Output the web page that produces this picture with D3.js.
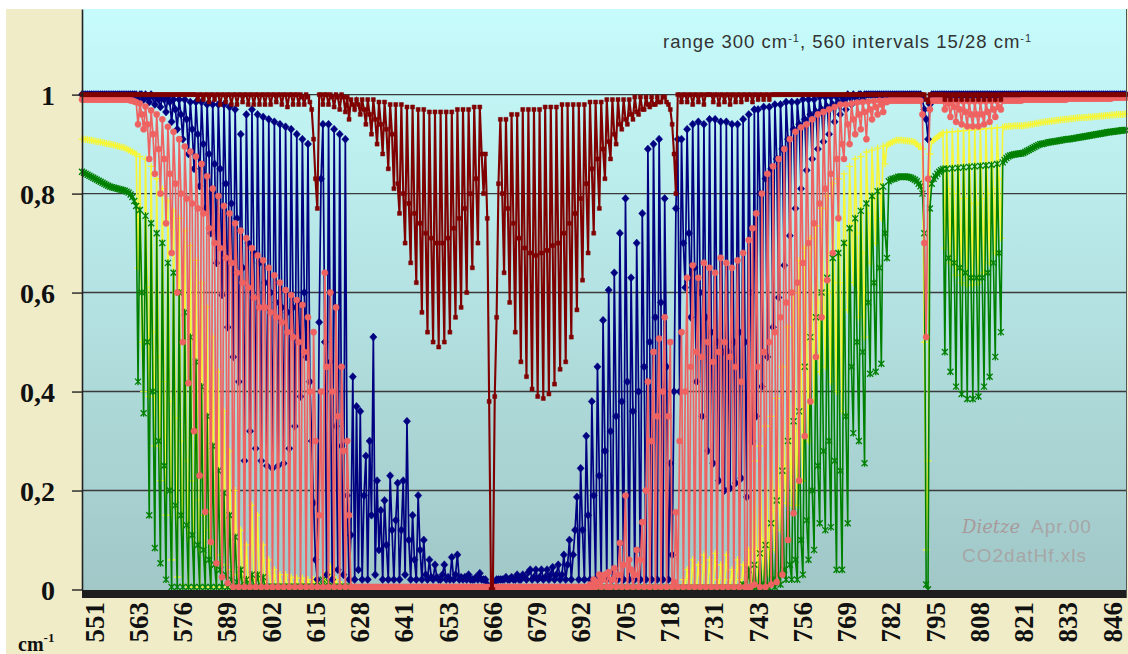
<!DOCTYPE html>
<html>
<head>
<meta charset="utf-8">
<style>
  body { margin: 0; background: #fff; }
  .axis text { font-family: "Liberation Serif", "Times New Roman", serif; font-weight: bold; fill: #111; }
  .note { font-family: "Liberation Sans", Arial, sans-serif; }
</style>
</head>
<body>
<svg width="1128" height="654"></svg>
<script src="https://cdn.jsdelivr.net/npm/d3@7"></script>
<script>
// category axis: 560 intervals from 551 cm-1, a label every 24 intervals
var xTickLabels = ["551","563","576","589","602","615","628","641","653","666","679","692",
                   "705","718","731","743","756","769","782","795","808","821","833","846"];
var yTickValues = [0, 20, 40, 60, 80, 100];
var yTickLabels = ["0", "0,2", "0,4", "0,6", "0,8", "1"];

// transmission in percent, one row per label interval (24 points)
var maroonRows = [
  [100,100,100,100,100,100,100,100,100,100,100,100,100,100,100,100,100,100,100,100,100,100,100,100],
  [100,100,100,100,100,100,100,100,100,100,100,100,100,100,100,100,100,100,100,100,100,100,100,100],
  [100,100,100,100,100,100,100,100,100,100,100,100,100,100,99,100,100,99,100,100,98.5,100,100,99],
  [100,100,98,100,100,98.5,100,100,98,100,100,98,100,100,98.5,100,100,98,100,100,98,100,100,98],
  [100,100,98,100,100,98,100,100,98.5,100,100,98,100,100,97.5,100,100,98,100,100,98,100,99.5,98],
  [100,99.5,98.5,97,91,83,77,100,100,98,100,100,98,100,99.5,97.5,100,99.5,97,100,99.5,96.5,99.5,95],
  [99,98,97,99,98,96,99,97,94,99,96,92,99,95,90,98.5,94,88,98.5,93,85,98,92,81],
  [98,82,76,98,80,70,97.5,78,66,97.5,76,62,97,74,56,97,72,52,96.5,71,50,96.5,70,49],
  [96.5,70,50,96.5,71,52,96.5,73,55,97,75,57,97,77,60,97,80,65,97.5,83,70,97.5,88,80],
  [88,75,38,0,0,39,55,82,95,80,64,95,77,58,96,74,52,96,71,46,97,69,43,97],
  [68,40.5,97,67.5,39,97,68,38.6,97.5,68.5,39.5,97.5,69.5,41.5,97.5,70,44.5,98,72,46,98,74,51,98],
  [76,56.5,98,79,62.5,98,82,68,98.5,85,72,98.5,87,77,98.5,89,83,99,90.5,87,99,92,90,99],
  [94,93,99,95,94,99,96,95,99.5,96.5,96,99.5,97,97,99.5,98,97.5,99.5,98,98,99.5,98.5,98.5,99.5],
  [99.5,98.5,98,97,94,88,80,100,100,98.5,100,100,98.5,100,100,98,100,100,98.5,100,100,98,100,100],
  [100,100,98.5,100,100,98,100,100,98.5,100,100,98,100,100,98.5,100,100,98.5,100,100,99,100,100,98.5],
  [100,100,99,100,100,99,100,100,99,100,100,100,100,100,100,100,100,100,100,100,100,100,100,100],
  [100,100,100,100,100,100,100,100,100,100,100,100,100,100,100,100,100,100,100,100,100,100,100,100],
  [100,100,100,100,100,100,100,100,100,100,100,100,100,100,100,100,100,100,100,100,100,100,100,100],
  [100,100,100,100,100,100,100,100,100,100,100,100,100,100,100,100,100,100,100,100,99,98.5,100,100],
  [100,100,100,100,100,100,99,100,100,99,100,100,99,100,100,99,100,100,99,100,100,99,100,100],
  [99,100,100,99,100,100,99,100,100,99,100,100,99,100,100,100,100,100,100,100,100,100,100,100],
  [100,100,100,100,100,100,100,100,100,100,100,100,100,100,100,100,100,100,100,100,100,100,100,100],
  [100,100,100,100,100,100,100,100,100,100,100,100,100,100,100,100,100,100,100,100,100,100,100,100],
  [100,100,100,100,100,100,100,100]
];

var navyRows = [
  [100,100,100,100,100,100,100,100,100,100,100,100,100,100,100,100,100,100,100,100,100,100,100,100],
  [100,100,100,100,100,100,99,100,100,99,100,99.5,98.5,100,99.5,98,99.5,99,97.5,99.5,99,96.5,99.5,98.5],
  [94.5,99,97,93,99,96,91,99,95,88,98.5,93,85,98.5,92,81.5,98.5,90,77,98,88,72,98,86],
  [66,98,85,59.5,98,82,53,97.5,78,47,97,75,42,92,65,26,96,70,32,97,68,28.5,96,66],
  [26,95.5,62,25,95,60,24.5,94.5,58,25,94,57,25.5,93.5,56,28.5,93,57,33,92,58,39,91,60],
  [47,90,42,30,17.5,6,2,54,83,94,50,3,94,46,2,93,33,4,92,29,3,91,19,2],
  [11,43,2,37,4,36,2,19,27,2,30,15,51,3,22,8,16,2,18,9,2,23,12,2],
  [14,21.5,2,12,22,3,34,10,2,15,6,2,19,8,2,10,3,2,6,2.5,2,5,2.5,2],
  [2,3,5,2,2.5,2,6.5,2,3,7,2,2.5,2,2.5,2,3,2,2,2,2.5,2,3.3,2,2],
  [2,1,0,0,0.5,1,2,2,2,2,2,2.5,2,2,2.5,2,2,3,2,2,3,2.5,2,3.5],
  [4,2,2.5,4,2,2.5,4,2,2.5,4,2,3,4.5,2,3,5,2,3,7,2,5,10,2,7],
  [12,18.7,2,24.5,12,2,31,15,2,38,19,2,45,23,2,54.4,28,2,60.5,32,2,64,35,2],
  [72,38,2,79,42,2,63,36,2,70,40,2,76,45,2,89,50,2,90,55,2,91,58,2],
  [79,45,2,25.5,7,40,77,91,40,91,70,61,93,72,55,94,65,42,94.5,60,35,94,55,28],
  [95,52,25.5,95,50,22,94.5,48,20,94.5,48,20.5,94,50,21.5,94,52,22.5,95,50,18.7,96,60,30],
  [97,35,97,80,41,97.5,83,47,97.5,85,53,98,87,59,98,89,65.5,98.5,91,71.5,98.5,93,77,98.5],
  [94,81,99,95,84.7,99,96,87,99,96.5,89,99.5,97,90.5,99.5,97.5,92,99.5,98,94.5,99.5,98.5,96,99.5],
  [99,97,100,99.5,98,100,99.5,98.5,100,100,99,100,100,100,100,100,100,100,100,100,100,100,100,100],
  [100,100,100,100,100,100,100,100,100,100,100,100,100,100,100,100,100,100,99,97,95,91,98,100],
  [100,100,100,100,100,100,100,100,100,100,100,100,100,100,100,100,100,100,100,100,100,100,100,100],
  [100,100,100,100,100,100,100,100,100,100,100,100,100,100,100,100,100,100,100,100,100,100,100,100],
  [100,100,100,100,100,100,100,100,100,100,100,100,100,100,100,100,100,100,100,100,100,100,100,100],
  [100,100,100,100,100,100,100,100,100,100,100,100,100,100,100,100,100,100,100,100,100,100,100,100],
  [100,100,100,100,100,100,100,100]
];

var salmonRows = [
  [99,99,99,99,99,99,99,99,99,99,99,99,99,99,99,99,99,99,99,99,99,99,99,99],
  [99,99,98.8,98.8,98.6,98.5,94,98.2,96,93,97.6,94,87,96.8,92,84,96,89,80,95,87,74,93.5,84],
  [68,92.5,82,60,91,80,50,89.5,79,41.7,88.5,78,32,87.5,77,23,86,76,15.7,83.5,73,9.6,81,70],
  [5.3,79.5,69,2.5,77.5,67,1.3,76,66,0.5,74,64,0.5,72.5,62,0.5,71,61,0.5,69,59,0.5,67.5,57],
  [0.5,66.5,57,0.5,65,56,0.5,63.5,55,0.5,62,54,0.5,60.5,52,0.5,59.5,51,0.5,58.5,50,0.5,57.5,48],
  [0.5,55,40,0.5,52,30,0.5,15,40,0.5,64,45,0.5,60,40,0.5,57,35,0.5,45,28,0.5,30,15],
  [0.5,0.5,0.5,0.5,0.5,0.5,0.5,0.5,0.5,0.5,0.5,0.5,0.5,0.5,0.5,0.5,0.5,0.5,0.5,0.5,0.5,0.5,0.5,0.5],
  [0.5,0.5,0.5,0.5,0.5,0.5,0.5,0.5,0.5,0.5,0.5,0.5,0.5,0.5,0.5,0.5,0.5,0.5,0.5,0.5,0.5,0.5,0.5,0.5],
  [0.5,0.5,0.5,0.5,0.5,0.5,0.5,0.5,0.5,0.5,0.5,0.5,0.5,0.5,0.5,0.5,0.5,0.5,0.5,0.5,0.5,0.5,0.5,0.5],
  [0.5,0.5,0.5,0.5,0.5,0.5,0.5,0.5,0.5,0.5,0.5,0.5,0.5,0.5,0.5,0.5,0.5,0.5,0.5,0.5,0.5,0.5,0.5,0.5],
  [0.5,0.5,0.5,0.5,0.5,0.5,0.5,0.5,0.5,0.5,0.5,0.5,0.5,0.5,0.5,0.5,0.5,0.5,0.5,0.5,0.5,0.5,0.5,0.5],
  [0.5,0.5,0.5,0.5,0.5,0.5,0.5,0.5,1,0.5,2,0.5,1.5,3,0.5,2,3,0.5,3.5,0.5,2,4.3,0.5,3],
  [9.4,0.5,5,19,0.5,6,4,0.5,3,8,0.5,6,13.6,0.5,20,42,0.5,30,48,0.5,35,50.7,0.5,40],
  [55,0.5,35,50,0.5,1.5,15.6,0.5,30,52,0.5,40,63,0.5,45,65.5,0.5,48,63,0.5,47,66,0.5,50],
  [65,0.5,46,64,0.5,48,67,0.5,50,66,0.5,47,65,0.5,45,66.5,0.5,42,68,0.5,0.5,70.6,0.5,73],
  [1,76,45,0.5,80,48,0.5,84,50,1,85.5,52,1.5,87,55,3,89,58,10,91,60,15.4,92.5,62],
  [22,93.4,66,31,94,70,38,95,74,47,96,78,55,96.5,81,62.5,97,84,68,97.5,87,75,98,90],
  [87,98,94,90,98.2,95,92,98.4,96,93,98.5,96.5,91,98.6,97,95,98.7,97.5,96,98.8,98,96.5,98.8,98.5],
  [98.8,98.8,98.8,98.8,98.8,98.8,98.8,98.8,98.8,98.8,98.8,98.8,98.8,98.8,98.8,98.8,98.8,98.8,96,70,51,83,97,98.8],
  [98.8,98.8,98.8,98.8,98.8,98.8,97,98.7,98.2,95.5,98.7,97.5,94.5,98.6,97,94,98.6,96.5,93.6,98.6,96,93.6,98.6,96],
  [93.6,98.6,96,94,98.6,96.5,94.5,98.7,97,95.5,98.7,97.5,97,98.8,98.8,98.8,98.8,98.8,98.8,98.8,98.8,98.8,98.8,98.8],
  [99,99,99,99,99,99,99,99,99,99,99,99,99,99,99,99,99,99,99,99,99,99,99,99],
  [99.2,99.2,99.2,99.2,99.2,99.2,99.2,99.2,99.2,99.2,99.2,99.2,99.2,99.2,99.2,99.2,99.2,99.2,99.2,99.2,99.2,99.2,99.2,99.2],
  [99.4,99.4,99.4,99.4,99.4,99.4,99.4,99.4]
];

var yellowRows = [
  [91,91,91,90.9,90.8,90.8,90.7,90.6,90.5,90.5,90.4,90.3,90.2,90.1,90,90,89.9,89.8,89.7,89.6,89.5,89.4,89.3,89.2],
  [89,88.8,88.6,88.4,88.2,88,65,87.5,50,40,87,61,39,85.5,52,29,83,47,22,81,42,15,78.5,38],
  [6,76.5,34.6,2.5,75,30,1,72.5,26,0.5,69.5,22,0.5,66.5,18,0.5,62,15,0.5,57,12,0.5,51,9],
  [0.5,44,7,0.5,36,5,0.5,28,4,0.5,20,3,0.5,12,2,0.5,9,1,0.5,17,2,0.5,15,1],
  [0.5,9,1,0.5,6,1,0.5,4,0.5,0.5,3,0.5,0.5,3,0.5,0.5,2.5,0.5,0.5,2.3,0.5,0.5,2.3,0.5],
  [0.5,2,0.5,0.5,2,0.5,0.5,1,0.5,0.5,3,0.5,0.5,4.6,0.5,0.5,2,0.5,0.5,1,0.5,0.5,0.5,0.5],
  [0.3,0.3,0.3,0.3,0.3,0.3,0.3,0.3,0.3,0.3,0.3,0.3,0.3,0.3,0.3,0.3,0.3,0.3,0.3,0.3,0.3,0.3,0.3,0.3],
  [0.3,0.3,0.3,0.3,0.3,0.3,0.3,0.3,0.3,0.3,0.3,0.3,0.3,0.3,0.3,0.3,0.3,0.3,0.3,0.3,0.3,0.3,0.3,0.3],
  [0.3,0.3,0.3,0.3,0.3,0.3,0.3,0.3,0.3,0.3,0.3,0.3,0.3,0.3,0.3,0.3,0.3,0.3,0.3,0.3,0.3,0.3,0.3,0.3],
  [0.3,0.3,0.3,0.3,0.3,0.3,0.3,0.3,0.3,0.3,0.3,0.3,0.3,0.3,0.3,0.3,0.3,0.3,0.3,0.3,0.3,0.3,0.3,0.3],
  [0.3,0.3,0.3,0.3,0.3,0.3,0.3,0.3,0.3,0.3,0.3,0.3,0.3,0.3,0.3,0.3,0.3,0.3,0.3,0.3,0.3,0.3,0.3,0.3],
  [0.3,0.3,0.3,0.3,0.3,0.3,0.3,0.3,0.3,0.3,0.3,0.3,0.3,0.3,0.3,0.3,0.3,0.3,0.3,0.3,0.3,0.3,0.3,0.3],
  [0.3,0.3,0.3,0.3,0.3,0.3,0.3,0.3,0.3,0.3,0.3,0.3,0.3,0.3,0.3,0.3,0.3,0.3,0.3,0.3,0.3,0.3,0.3,0.3],
  [0.3,0.3,0.3,0.3,0.3,0.3,0.3,0.3,0.3,0.3,2,0.3,4,0.5,0.3,6,1,0.3,5,1,0.3,7,1,0.3],
  [6,1,0.3,7.3,2,0.3,5,1,0.3,7,2,0.3,4,1,0.3,6,2,0.3,5,1,0.3,8,2,0.3],
  [26,8,0.5,29,10,1,33,12,3,35,16,8,38.6,20,12,45,25,17.4,53,30,17,60,32,17],
  [66.5,45,22,69,50,30,71,55,38,73.5,58,44,77,60,45,79.5,60,42,82,62,40,83,62,36],
  [84,70,56.5,85.5,74,62,87,72,55,87.5,68,51,88.4,76,66,88.8,79,70,89.2,82,75,89.6,86,89.8],
  [90,90.2,90.4,90.6,90.8,90.8,90.8,90.8,90.7,90.7,90.7,90.6,90.6,90.5,90.3,90,89.5,89.5,89,50,8,26,88,90.5],
  [90.8,91.1,91.4,91.7,92,92.3,69,92.4,81,66,92.5,80,63.5,92.6,79,62,92.7,79,61.5,92.8,78,61.5,92.9,78],
  [62,93,79,64,93.1,80,66,93.2,81,68,93.3,83,71,93.4,93.5,93.5,93.6,93.6,93.6,93.7,93.7,93.7,93.7,93.7],
  [93.7,93.8,93.8,93.9,94,94,94.1,94.2,94.2,94.3,94.4,94.4,94.5,94.5,94.6,94.6,94.7,94.7,94.8,94.8,94.9,94.9,95,95],
  [95,95.1,95.1,95.2,95.2,95.3,95.3,95.3,95.4,95.4,95.4,95.5,95.5,95.5,95.6,95.6,95.6,95.7,95.7,95.7,95.8,95.8,95.8,95.9],
  [95.9,95.9,96,96,96,96,96.1,96.1]
];

var greenRows = [
  [84.4,84.2,84,83.8,83.6,83.4,83.2,83,82.8,82.6,82.4,82.2,82,81.8,81.6,81.4,81.3,81.2,81.1,81,80.9,80.8,80.7,80.6],
  [80.4,80.2,79.8,79.3,78.5,77.5,42,76.7,60,35.6,75.5,50,15,74,40,8.4,72,30,5.3,70,25,2,66,20],
  [0.5,64,17,0.5,60,15,0.5,56,13,0.5,51,11,0.5,46,9,0.5,41,8,0.5,35,6,0.5,29,5],
  [0.5,24,4,0.5,19.5,3,0.5,15,2,0.5,10.6,1.5,0.5,4,0.5,0.5,2,0.5,0.5,3,0.5,0.5,3,0.5],
  [0.5,2.5,0.5,0.5,0.5,0.5,0.5,0.5,0.5,0.5,0.5,0.5,0.5,0.5,0.5,0.5,0.5,0.5,0.5,0.5,0.5,0.5,0.5,0.5],
  [0.5,0.5,0.5,0.5,0.5,0.5,1.5,0.5,0.5,2,0.5,0.5,1.5,0.5,0.5,0.5,0.5,0.5,0.5,0.5,0.5,0.5,0.5,0.5],
  [0.3,0.3,0.3,0.3,0.3,0.3,0.3,0.3,0.3,0.3,0.3,0.3,0.3,0.3,0.3,0.3,0.3,0.3,0.3,0.3,0.3,0.3,0.3,0.3],
  [0.3,0.3,0.3,0.3,0.3,0.3,0.3,0.3,0.3,0.3,0.3,0.3,0.3,0.3,0.3,0.3,0.3,0.3,0.3,0.3,0.3,0.3,0.3,0.3],
  [0.3,0.3,0.3,0.3,0.3,0.3,0.3,0.3,0.3,0.3,0.3,0.3,0.3,0.3,0.3,0.3,0.3,0.3,0.3,0.3,0.3,0.3,0.3,0.3],
  [0.3,0.3,0.3,0.3,0.3,0.3,0.3,0.3,0.3,0.3,0.3,0.3,0.3,0.3,0.3,0.3,0.3,0.3,0.3,0.3,0.3,0.3,0.3,0.3],
  [0.3,0.3,0.3,0.3,0.3,0.3,0.3,0.3,0.3,0.3,0.3,0.3,0.3,0.3,0.3,0.3,0.3,0.3,0.3,0.3,0.3,0.3,0.3,0.3],
  [0.3,0.3,0.3,0.3,0.3,0.3,0.3,0.3,0.3,0.3,0.3,0.3,0.3,0.3,0.3,0.3,0.3,0.3,0.3,0.3,0.3,0.3,0.3,0.3],
  [0.3,0.3,0.3,0.3,0.3,0.3,0.3,0.3,0.3,0.3,0.3,0.3,0.3,0.3,0.3,0.3,0.3,0.3,0.3,0.3,0.3,0.3,0.3,0.3],
  [0.3,0.3,0.3,0.3,0.3,0.3,0.3,0.3,0.3,0.3,0.3,0.3,0.3,0.3,0.3,0.3,0.3,0.3,0.3,0.3,0.3,0.3,0.3,0.3],
  [0.3,0.3,0.3,0.3,0.3,0.3,0.3,0.3,0.3,0.3,0.3,0.3,0.3,0.3,0.3,0.3,0.3,0.3,1,0.3,0.3,4,0.5,0.3],
  [5,0.5,0.3,7.3,1,0.3,9,1,0.3,13.4,2,0.5,18,3,1,24,4,2,30,5,2,34,6,2],
  [36,10,3,45,14,6,51,20,8,55,25,13.4,60,28,12,63,30,12.6,67,26,4,68,24,4],
  [70,35,13.4,73,45,31.6,75,50,30,76.5,48,25.5,78,58,43.6,79.5,62,44,80.5,65,45.6,81.4,72,67],
  [82.5,82.8,83,83,83.2,83.4,83.4,83.4,83.4,83.4,83.4,83.3,83.2,83,82.8,82.5,82,81.5,80,72,1,0,77,82],
  [83,83.5,84,84.4,84.7,85,48,85,67,44,85.1,66,41,85.2,65,39.5,85.3,64,38.5,85.4,63,38.5,85.5,63],
  [39,85.6,63,41,85.7,64,43,85.8,66,47,86,68,52,86.3,86.8,87.2,87.5,87.7,87.8,87.9,88,88,88.1,88.1],
  [88.2,88.4,88.6,88.8,89,89.2,89.4,89.6,89.8,90,90,90.1,90.2,90.3,90.4,90.4,90.5,90.6,90.6,90.7,90.8,90.8,90.9,91],
  [91,91,91.1,91.2,91.2,91.3,91.4,91.4,91.5,91.6,91.6,91.7,91.8,91.8,91.9,92,92,92.1,92.2,92.2,92.3,92.4,92.4,92.5],
  [92.5,92.6,92.6,92.7,92.7,92.8,92.8,92.8]
];

var W = 1128, H = 654;
var svg = d3.select("svg");
var plotLeft = 82, plotRight = 1126, plotTop = 9, zeroY = 589.5;

var x = d3.scaleLinear().domain([0, 559]).range([plotLeft, plotRight]);
var y = d3.scaleLinear().domain([0, 117.3]).range([zeroY, plotTop]);
// the category labels sit on their own evenly spaced positions under the plot
var xLabel = d3.scalePoint().domain(xTickLabels).range([95, 1113]);

// frame and plot background
svg.append("rect").attr("width", W).attr("height", H).attr("fill", "#fff");
svg.append("rect").attr("x", 6).attr("y", 9).attr("width", W - 6).attr("height", H - 9).attr("fill", "#f0ecc8");

var grad = svg.append("defs").append("linearGradient")
    .attr("id", "bg").attr("x1", 0).attr("y1", 0).attr("x2", 0).attr("y2", 1);
grad.append("stop").attr("offset", "0%").attr("stop-color", "#c7fcfc");
grad.append("stop").attr("offset", "100%").attr("stop-color", "#a1c7c7");

svg.append("rect").attr("x", plotLeft).attr("y", plotTop)
    .attr("width", plotRight - plotLeft).attr("height", zeroY - plotTop + 1).attr("fill", "url(#bg)");

svg.append("g").selectAll("line")
    .data([20, 40, 60, 80, 100])
  .enter().append("line")
    .attr("x1", plotLeft).attr("x2", plotRight)
    .attr("y1", function(d) { return y(d); }).attr("y2", function(d) { return y(d); })
    .attr("stroke", "#3a3a3a").attr("stroke-width", 1.4);

// series, drawn bottom to top
var series = [
  {name: "yellow", rows: yellowRows, color: "#f6f634", marker: "plus",    width: 1.6},
  {name: "green",  rows: greenRows,  color: "#008000", marker: "star",    width: 1.6},
  {name: "navy",   rows: navyRows,   color: "#000080", marker: "diamond", width: 1.7},
  {name: "salmon", rows: salmonRows, color: "#ef6262", marker: "circle",  width: 1.7},
  {name: "maroon", rows: maroonRows, color: "#800000", marker: "square",  width: 2.1}
];

var markerPath = {
  diamond: "M0,-4L3.6,0L0,4L-3.6,0Z",
  square: "M-2,-2H2V2H-2Z",
  circle: d3.symbol().type(d3.symbolCircle).size(30)(),
  plus: "M-3.5,0H3.5M0,-3.5V3.5",
  star: "M-3,-3L3,3M-3,3L3,-3M0,-3.5V3.5"
};
var filled = {diamond: true, square: true, circle: true, plus: false, star: false};

var line = d3.line()
    .x(function(d, i) { return x(i); })
    .y(function(d) { return y(d); });

var problems = [];
series.forEach(function(s) {
  s.rows.forEach(function(r, k) {
    var want = k < 23 ? 24 : 8;
    if (r.length !== want) problems.push(s.name + " row " + k + " has " + r.length);
  });
  var values = s.rows.flat();
  var g = svg.append("g").attr("class", "series " + s.name);
  g.append("path")
      .datum(values)
      .attr("d", line)
      .attr("fill", "none")
      .attr("stroke", s.color)
      .attr("stroke-width", s.width)
      .attr("stroke-linejoin", "miter");
  g.selectAll(".m")
      .data(values)
    .enter().append("path")
      .attr("class", "m")
      .attr("transform", function(d, i) { return "translate(" + x(i) + "," + y(d) + ")"; })
      .attr("d", markerPath[s.marker])
      .attr("fill", filled[s.marker] ? s.color : "none")
      .attr("stroke", s.color)
      .attr("stroke-width", filled[s.marker] ? 0.5 : 1.3);
});

// bottom band, right border
svg.append("rect").attr("x", plotLeft).attr("y", 590).attr("width", plotRight - plotLeft).attr("height", 8).attr("fill", "#1e1e1e");
svg.append("line").attr("x1", plotRight + 0.5).attr("x2", plotRight + 0.5).attr("y1", plotTop).attr("y2", 598)
    .attr("stroke", "#555").attr("stroke-width", 1);

// axes
var yAxis = d3.axisLeft(y)
    .tickValues(yTickValues)
    .tickFormat(function(d, i) { return yTickLabels[i]; })
    .tickSize(10).tickSizeOuter(0).tickPadding(17);
var gy = svg.append("g").attr("class", "axis").attr("transform", "translate(" + plotLeft + ",0)").call(yAxis);
gy.select(".domain").attr("stroke", "#222").attr("stroke-width", 1.6);
gy.selectAll(".tick line").attr("stroke", "#222").attr("stroke-width", 1.4);
gy.selectAll("text").attr("font-size", 28).attr("dy", "0.34em");

var xAxis = d3.axisBottom(xLabel).tickSize(0).tickSizeOuter(0);
var gx = svg.append("g").attr("class", "axis").attr("transform", "translate(0,598)").call(xAxis);
gx.select(".domain").remove();
gx.selectAll("text")
    .attr("transform", "rotate(-90)")
    .attr("x", -4).attr("y", 0).attr("dy", "0.3em")
    .attr("font-size", 27)
    .style("text-anchor", "end");

var cm = svg.append("text").attr("class", "axis").attr("x", 18).attr("y", 651)
    .attr("font-family", "Liberation Serif, serif").attr("font-weight", "bold").attr("font-size", 20).attr("fill", "#111");
cm.append("tspan").text("cm");
cm.append("tspan").attr("dy", -9).attr("font-size", 13).text("-1");

// header and signature
var title = svg.append("text").attr("class", "note").attr("x", 663).attr("y", 48)
    .attr("font-size", 18.5).attr("letter-spacing", 1).attr("fill", "#333");
title.append("tspan").text("range 300 cm");
title.append("tspan").attr("dy", -6).attr("font-size", 11).text("-1");
title.append("tspan").attr("dy", 6).text(", 560 intervals 15/28 cm");
title.append("tspan").attr("dy", -6).attr("font-size", 11).text("-1");

svg.append("text").attr("x", 962).attr("y", 533)
    .attr("font-family", "DejaVu Serif, serif").attr("font-style", "italic").attr("font-size", 18)
    .attr("fill", "#a89a9a").text("Dietze");
svg.append("text").attr("class", "note").attr("x", 1031).attr("y", 533)
    .attr("font-size", 19).attr("letter-spacing", 1).attr("fill", "#a6a6a6").text("Apr.00");
svg.append("text").attr("class", "note").attr("x", 962).attr("y", 562)
    .attr("font-size", 19).attr("letter-spacing", 1).attr("fill", "#a6a6a6").text("CO2datHf.xls");

if (problems.length) throw new Error(problems.join("; "));
</script>
</body>
</html>
